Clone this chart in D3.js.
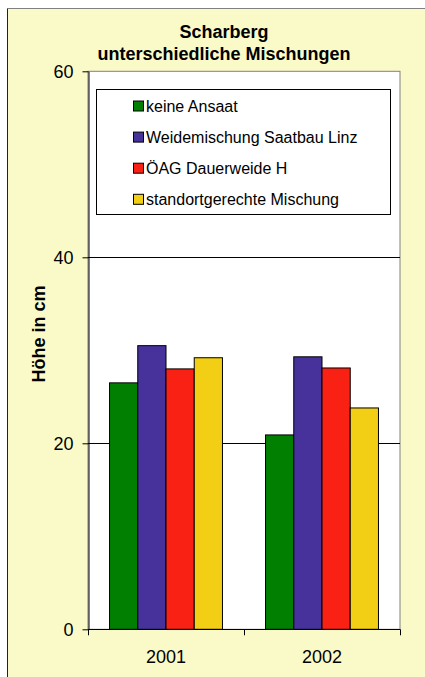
<!DOCTYPE html>
<html><head><meta charset="utf-8">
<script src="https://cdn.jsdelivr.net/npm/d3@7"></script>
<style>html,body{margin:0;padding:0;background:#fff;}svg{display:block;}</style>
</head><body>
<script>
const categories = ["2001", "2002"];
const seriesNames = ["keine Ansaat", "Weidemischung Saatbau Linz", "ÖAG Dauerweide H", "standortgerechte Mischung"];
const seriesColors = ["#007F00", "#46329A", "#F82114", "#F2CE14"];
const values2001 = [26.5, 30.5, 28.0, 29.2];
const values2002 = [20.9, 29.3, 28.1, 23.8];
const yTicks = [0, 20, 40, 60];
const titleLines = ["Scharberg", "unterschiedliche Mischungen"];
const yLabel = "Höhe in cm";

const data = [values2001, values2002];
const W = 425, H = 677;
const font = "Arial, 'Liberation Sans', sans-serif";
const svg = d3.select("body").append("svg").attr("width", W).attr("height", H);

// chart area
svg.append("rect").attr("x", 7.5).attr("y", 8.5).attr("width", W).attr("height", H).attr("fill", "#FAFAC8");
svg.append("line").attr("x1", 7.5).attr("x2", W).attr("y1", 8.5).attr("y2", 8.5).attr("stroke", "#808080");
svg.append("line").attr("x1", 7.5).attr("x2", 7.5).attr("y1", 8.5).attr("y2", H).attr("stroke", "#222");

const L = 88, R = 400, T = 71.3, B = 629.3;
const y = d3.scaleLinear().domain([0, 60]).range([B, T]);
const x0 = d3.scaleBand().domain(categories).range([L, R]).paddingInner(0.276).paddingOuter(0.138);
const x1 = d3.scaleBand().domain(seriesNames).range([0, x0.bandwidth()]);
const xStep = d3.scaleBand().domain(categories).range([L, R]);

// plot area
svg.append("rect").attr("x", L).attr("y", T).attr("width", R - L).attr("height", B - T)
  .attr("fill", "#fff").attr("stroke", "#808080");

// gridlines
svg.append("g").selectAll("line").data(yTicks.filter(v => v > 0 && v < 60)).join("line")
  .attr("x1", L).attr("x2", R).attr("y1", d => Math.round(y(d)) + 0.5).attr("y2", d => Math.round(y(d)) + 0.5)
  .attr("stroke", "#000");

// bars
const g = svg.append("g").selectAll("g").data(categories).join("g")
  .attr("transform", d => `translate(${x0(d)},0)`);
g.selectAll("rect").data((d, i) => data[i].map((v, j) => ({v, name: seriesNames[j], color: seriesColors[j]})))
  .join("rect")
  .attr("x", d => x1(d.name)).attr("width", x1.bandwidth())
  .attr("y", d => y(d.v)).attr("height", d => B - y(d.v))
  .attr("fill", d => d.color).attr("stroke", "#000").attr("stroke-width", 1);

// y axis
const ya = svg.append("g").attr("transform", `translate(${L + 0.5},0)`)
  .call(d3.axisLeft(y).tickValues(yTicks).tickSize(6).tickPadding(9).tickSizeOuter(0));
ya.select(".domain").attr("stroke", "#000");
ya.selectAll("text").attr("font-family", font).attr("font-size", 18).attr("fill", "#000");
ya.selectAll("line").attr("stroke", "#000");

// x axis
svg.append("line").attr("x1", L).attr("x2", R).attr("y1", B + 0.2).attr("y2", B + 0.2).attr("stroke", "#000");
const xTickPos = [xStep(categories[0]), xStep(categories[1]), xStep(categories[1]) + xStep.bandwidth()];
svg.append("g").selectAll("line").data(xTickPos).join("line")
  .attr("x1", d => Math.round(d) + 0.5).attr("x2", d => Math.round(d) + 0.5)
  .attr("y1", B).attr("y2", B + 6).attr("stroke", "#000");
svg.append("g").selectAll("text").data(categories).join("text")
  .attr("x", d => x0(d) + x0.bandwidth() / 2).attr("y", 663)
  .attr("text-anchor", "middle").attr("font-family", font).attr("font-size", 18).text(d => d);

// title
svg.append("g").selectAll("text").data(titleLines).join("text")
  .attr("x", 224).attr("y", (d, i) => 38 + i * 22)
  .attr("text-anchor", "middle").attr("font-family", font).attr("font-size", 18).attr("font-weight", "bold")
  .text(d => d);

// y label
svg.append("text").attr("transform", "translate(45,334) rotate(-90)")
  .attr("text-anchor", "middle").attr("font-family", font).attr("font-size", 18).attr("font-weight", "bold")
  .text(yLabel);

// legend
svg.append("rect").attr("x", 96.5).attr("y", 89.5).attr("width", 294).attr("height", 125)
  .attr("fill", "#fff").attr("stroke", "#000");
const lg = svg.append("g").selectAll("g").data(seriesNames).join("g")
  .attr("transform", (d, i) => `translate(133,${106 + i * 31.1})`);
lg.append("rect").attr("x", 0.5).attr("y", -5).attr("width", 10).attr("height", 10)
  .attr("fill", (d, i) => seriesColors[i]).attr("stroke", "#000");
lg.append("text").attr("x", 13).attr("y", 5.5).attr("font-family", font).attr("font-size", 16).text(d => d);
</script>
</body></html>
